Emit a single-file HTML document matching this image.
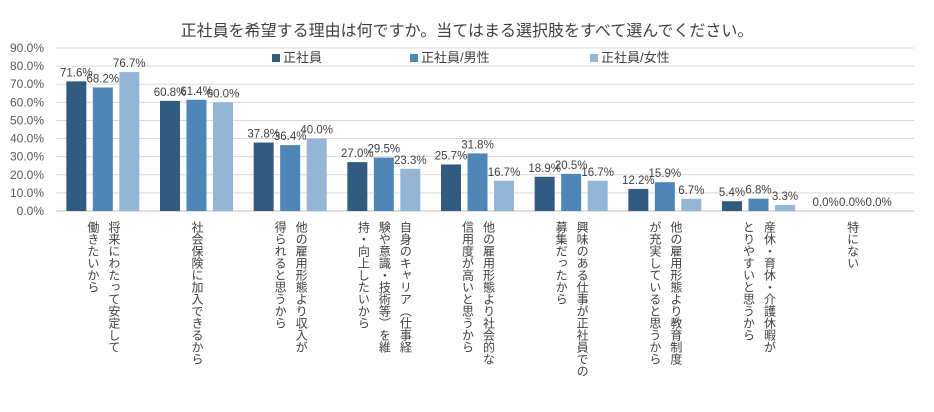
<!DOCTYPE html>
<html><head><meta charset="utf-8"><style>
body{margin:0;background:#fff;width:934px;height:412px;overflow:hidden;font-family:"Liberation Sans","Noto Sans CJK JP",sans-serif;}
#wrap{position:relative;width:934px;height:412px;}
.cat{position:absolute;top:221px;writing-mode:vertical-rl;font-size:12px;line-height:21px;color:#404040;letter-spacing:0px;white-space:pre;}
</style></head><body>
<div id="wrap">
<svg id="svg" width="934" height="412" style="position:absolute;left:0;top:0">
<text x="467" y="36" text-anchor="middle" font-size="16" fill="#404040">正社員を希望する理由は何ですか。当てはまる選択肢をすべて選んでください。</text>
</svg>
</div>
<script>
const categories=["将来にわたって安定して\n働きたいから","社会保険に加入できるから","他の雇用形態より収入が\n得られると思うから","自身のキャリア（仕事経\n験や意識・技術等）を維\n持・向上したいから","他の雇用形態より社会的な\n信用度が高いと思うから","興味のある仕事が正社員での\n募集だったから","他の雇用形態より教育制度\nが充実していると思うから","産休・育休・介護休暇が\nとりやすいと思うから","特にない"];
const seriesAll=[71.6,60.8,37.8,27.0,25.7,18.9,12.2,5.4,0.0];
const seriesMale=[68.2,61.4,36.4,29.5,31.8,20.5,15.9,6.8,0.0];
const seriesFemale=[76.7,60.0,40.0,23.3,16.7,16.7,6.7,3.3,0.0];
const seriesNames=["正社員","正社員/男性","正社員/女性"];
const yTicks=[0,10,20,30,40,50,60,70,80,90];
const colors=["#335b7f","#4f86b6","#94b5d5"];
const NS="http://www.w3.org/2000/svg";
const svg=document.getElementById('svg');
const wrap=document.getElementById('wrap');
const x0=56,x1=899,yBase=211,yTop=48;
const ys=v=>yBase-(v/90)*(yBase-yTop);
const step=(x1-x0)/categories.length;
const xc=i=>x0+step*(i+0.5);
function el(t,a){const e=document.createElementNS(NS,t);for(const k in a)e.setAttribute(k,a[k]);svg.appendChild(e);return e;}
yTicks.forEach(v=>{
  const l=el('line',{x1:x0,x2:x1+15,y1:ys(v),y2:ys(v),stroke:v===0?'#bfbfbf':'#d9d9d9','stroke-width':1});
  
  
  const t=el('text',{x:44,y:ys(v)+4,'text-anchor':'end','font-size':12,fill:'#595959'});
  t.textContent=v.toFixed(1)+'%';
  
  
});
const series=[seriesAll,seriesMale,seriesFemale];
const bw=20,gap=6.5;
series.forEach((s,si)=>{
  s.forEach((v,i)=>{
    const cx=xc(i)+(si-1)*(bw+gap);
    const r=el('rect',{x:cx-bw/2,y:ys(v),width:bw,height:yBase-ys(v),fill:colors[si]});
    
    
    const t=el('text',{x:cx,y:ys(v)-5,'text-anchor':'middle','font-size':11.5,fill:'#404040'});
    t.textContent=v.toFixed(1)+'%';
    
    
  });
});
const legX=[272,410,590];
seriesNames.forEach((n,i)=>{
  const r=el('rect',{x:legX[i],y:54,width:8,height:8,fill:colors[i]});
  
  
  const t=el('text',{x:legX[i]+11,y:62,'font-size':13,fill:'#404040'});
  t.textContent=n;
  
  
});
categories.forEach((c,i)=>{
  const d=document.createElement('div');
  d.className='cat';
  d.textContent=c;
  const lines=c.split('\n').length;
  d.style.left=(xc(i)-lines*21/2)+'px';
  
  
  wrap.appendChild(d);
});
</script>
</body></html>
